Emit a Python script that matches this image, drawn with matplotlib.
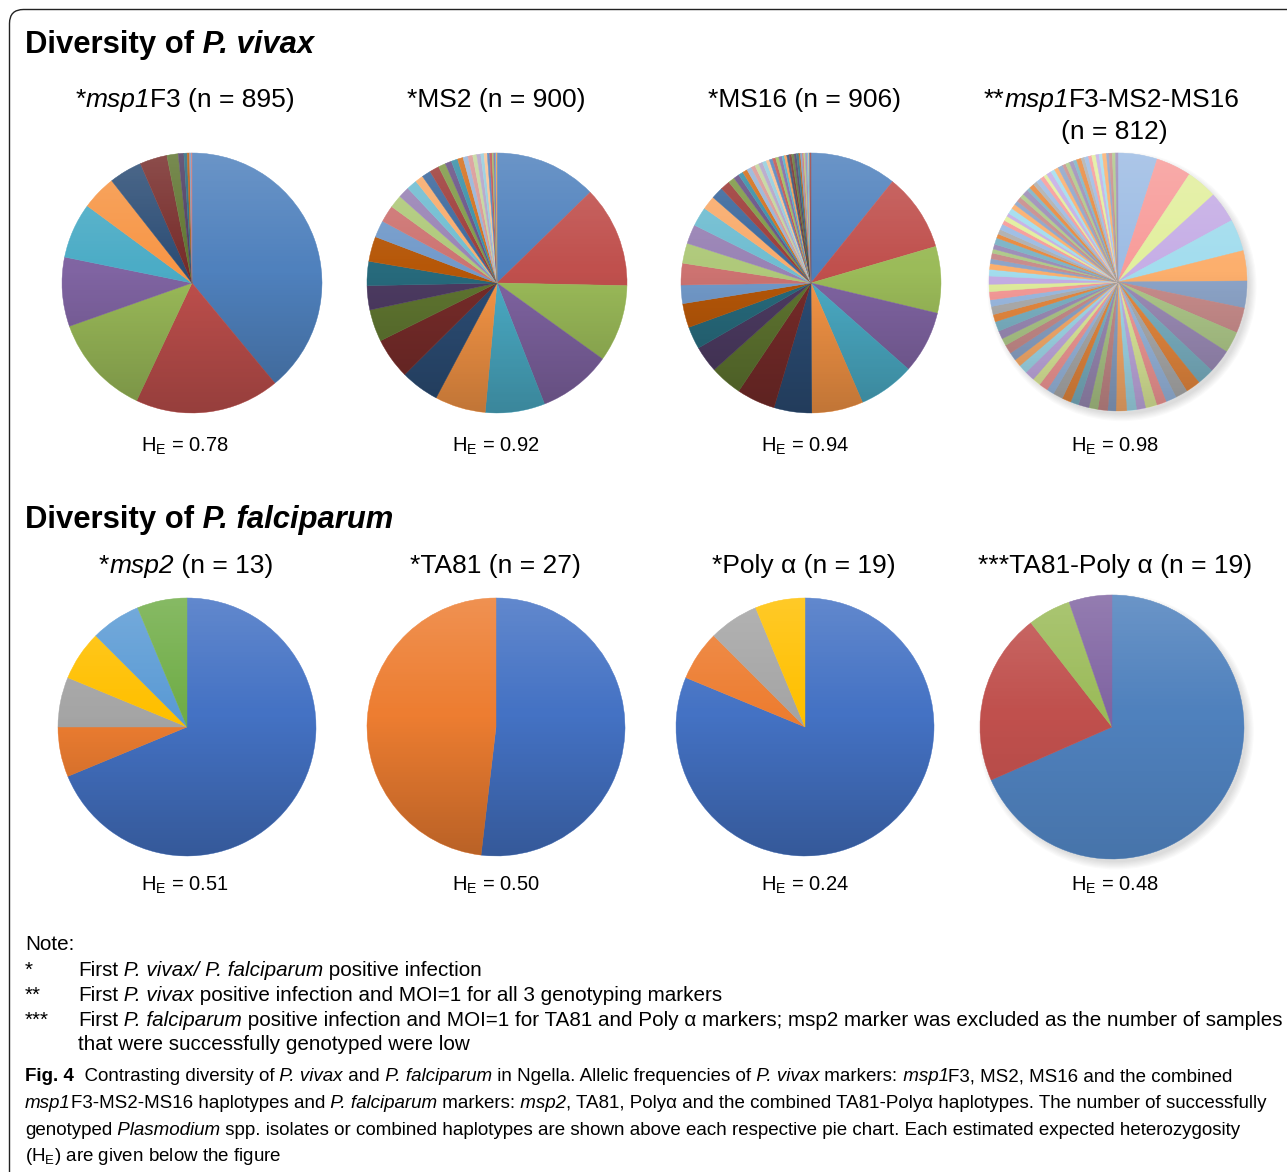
import numpy as np
import matplotlib.pyplot as plt
from matplotlib.patches import Circle, FancyBboxPatch
from matplotlib.transforms import IdentityTransform

plt.rcParams['font.family'] = ['Liberation Sans', 'DejaVu Sans']
plt.rcParams['mathtext.fontset'] = 'custom'
plt.rcParams['mathtext.rm'] = 'Liberation Sans'
plt.rcParams['mathtext.it'] = 'Liberation Sans:italic'

W, H = 1287, 1172
fig = plt.figure(figsize=(W / 100, H / 100), dpi=100)
R = fig.canvas.get_renderer()
PX = IdentityTransform()

# ---- data (allele frequencies, %, clockwise from 12 o'clock) ----
msp1f3 = [39.0, 18.0, 12.6, 8.6, 6.9, 4.3, 4.1, 3.4, 1.4, 0.7, 0.4, 0.3, 0.2, 0.1]
ms2 = [12.7, 12.6, 9.6, 9.1, 7.4, 6.3, 4.8, 5.1, 4.0, 3.0, 3.0, 3.1, 2.1, 2.1, 1.6, 1.4,
       1.3, 1.0, 1.1, 1.2, 0.9, 0.8, 0.8, 0.7, 0.6, 0.6, 0.5, 0.5, 0.4, 0.4, 0.3, 0.3,
       0.2, 0.2, 0.1, 0.1]
ms16 = [10.8, 9.7, 8.3, 7.8, 7.0, 6.4, 4.7, 4.8, 4.0, 3.3, 2.8, 3.0, 2.3, 2.7, 2.5, 2.4,
        2.4, 1.7, 1.5, 1.2, 0.8, 0.7, 0.6, 0.6, 0.6, 0.5, 0.5, 0.5, 0.5, 0.4, 0.4, 0.4,
        0.4, 0.4, 0.3, 0.3, 0.3, 0.3, 0.3, 0.3, 0.3, 0.2, 0.2, 0.2, 0.2, 0.2, 0.2, 0.1,
        0.1, 0.1]
msp1f3_ms2_ms16 = [4.8, 4.3, 3.8, 3.8, 3.9, 3.7, 3.3, 3.1, 2.6, 2.9, 2.1, 1.8,
                   1.5, 1.3, 1.2, 1.4, 1.1, 1.2, 1.3, 1.0, 1.2, 1.1, 1.3, 1.0, 1.1, 1.2,
                   0.9, 1.1, 1.0, 1.2, 1.1, 0.9, 1.0, 1.1, 0.9, 1.0, 1.2, 0.9, 1.0, 0.8,
                   1.0, 0.9, 1.0,
                   0.8, 0.7, 0.6, 0.7, 0.5, 0.6, 0.8, 0.5, 0.6, 0.7, 0.5, 0.6, 0.4, 0.7,
                   0.6, 0.5, 0.6, 0.5, 0.7, 0.4, 0.6, 0.5, 0.6, 0.5, 0.4, 0.6, 0.5, 0.5,
                   0.6, 0.4, 0.5, 0.5, 0.4, 0.6, 0.4, 0.5, 0.4, 0.5, 0.4, 0.4, 0.5, 0.3,
                   0.4, 0.4, 0.3]
msp2 = [11, 1, 1, 1, 1, 1]
ta81 = [14, 13]
poly_a = [13, 1, 1, 1]
ta81_poly_a = [13, 4, 1, 1]

vivax_he = ['0.78', '0.92', '0.94', '0.98']
falc_he = ['0.51', '0.50', '0.24', '0.48']

# ---- colour palettes ----
office2010 = ['#4F81BD', '#C0504D', '#9BBB59', '#8064A2', '#4BACC6', '#F79646',
              '#2C4D75', '#772C2A', '#5F7530', '#4D3B62', '#276A7C', '#B65708',
              '#729ACA', '#CD7371', '#AFC97A', '#9983B5', '#6FBDD1', '#F9AB6B',
              '#3A679C', '#9D3B38', '#7E9945', '#664F83', '#358EA6', '#D46D17',
              '#95B3D7', '#D99694', '#C3D69B', '#B3A2C7', '#93CDDD', '#FAC090']
pastel = ['#9DBCE4', '#F89C9A', '#E2EF9E', '#C6AEE6', '#A3DDEE', '#FCAF6D',
          '#8DA5C9', '#C98D8C', '#AFC98A', '#9D8DB8', '#7DB4C6', '#E98A3F',
          '#B0B0B0']
office2013 = ['#4472C4', '#ED7D31', '#A5A5A5', '#FFC000', '#5B9BD5', '#70AD47']


def rich(x, y, parts, size, ha='left'):
    texts = []
    for s, st in parts:
        texts.append(fig.text(0, 0, s, fontsize=size, transform=PX, va='baseline', ha='left',
                              fontweight='bold' if 'b' in st else 'normal',
                              fontstyle='italic' if 'i' in st else 'normal'))
    widths = [t.get_window_extent(R).width for t in texts]
    x0 = x - sum(widths) / 2 if ha == 'center' else x
    for t, w in zip(texts, widths):
        t.set_position((x0, H - y))
        x0 += w


def draw_pie(cx, cy, r, vals, cols, shade=0.22, shadow=False):
    m = 1.1
    ax = fig.add_axes([(cx - r * m) / W, (H - cy - r * m) / H, 2 * r * m / W, 2 * r * m / H])
    wedges, _ = ax.pie(vals, colors=[cols[i % len(cols)] for i in range(len(vals))],
                       startangle=90, counterclock=False, radius=1,
                       wedgeprops=dict(linewidth=0.3))
    for w in wedges:
        w.set_edgecolor(w.get_facecolor())
    t = np.linspace(0, 1, 256)
    light = np.clip((0.45 - t) / 0.45, 0, 1) * 0.16
    dark = np.clip((t - 0.45) / 0.55, 0, 1) * shade
    rgba = np.zeros((256, 2, 4))
    rgba[:, :, :3] = np.where(light > 0, 1.0, 0.0)[:, None, None]
    rgba[:, :, 3] = (light + dark)[:, None]
    im = ax.imshow(rgba, extent=(-1, 1, -1, 1), origin='upper', zorder=3,
                   interpolation='bilinear', aspect='auto')
    im.set_clip_path(Circle((0, 0), 1, transform=ax.transData))
    if shadow:
        for k in range(7):
            ax.add_patch(Circle((0.03, -0.035), 0.99 + 0.009 * k, color='k', alpha=0.018,
                                lw=0, zorder=0))
    ax.set_xlim(-m, m)
    ax.set_ylim(-m, m)
    ax.axis('off')


# border
fig.patches.append(FancyBboxPatch((9.5, -60), 1400, H - 9.5 + 60, transform=PX,
                                  boxstyle='round,pad=0,rounding_size=14',
                                  fc='none', ec='#222222', lw=1.0))

ts = 19
# ---- P. vivax ----
rich(25, 53, [('Diversity of', 'b'), (' P. vivax', 'bi')], 22.3)
rich(185, 107, [('*', ''), ('msp1', 'i'), ('F3 (n = 895)', '')], ts, 'center')
rich(496, 107, [('*MS2 (n = 900)', '')], ts, 'center')
rich(805, 107, [('*MS16 (n = 906)', '')], ts, 'center')
rich(1112, 107, [('**', ''), ('msp1', 'i'), ('F3-MS2-MS16', '')], ts, 'center')
rich(1114, 139, [('(n = 812)', '')], ts, 'center')

draw_pie(192, 283, 130, msp1f3, office2010)
draw_pie(497, 283, 130, ms2, office2010)
draw_pie(811, 283, 130, ms16, office2010)
draw_pie(1118, 282, 129, msp1f3_ms2_ms16, pastel, shade=0.2, shadow=True)

for xc, he in zip([185, 496, 805, 1115], vivax_he):
    fig.text(xc, H - 452, 'H$_\\mathregular{E}$ = ' + he, fontsize=14.5, ha='center',
             va='baseline', transform=PX)

# ---- P. falciparum ----
rich(25, 528, [('Diversity of', 'b'), (' P. falciparum', 'bi')], 22.3)
rich(186, 573, [('*', ''), ('msp2', 'i'), (' (n = 13)', '')], ts, 'center')
rich(495, 573, [('*TA81 (n = 27)', '')], ts, 'center')
rich(804, 573, [('*Poly α (n = 19)', '')], ts, 'center')
rich(1115, 573, [('***TA81-Poly α (n = 19)', '')], ts, 'center')

draw_pie(187, 727, 129, msp2, office2013)
draw_pie(496, 727, 129, ta81, office2013)
draw_pie(805, 727, 129, poly_a, office2013)
draw_pie(1112, 727, 132, ta81_poly_a, office2010, shade=0.1, shadow=True)

for xc, he in zip([185, 496, 805, 1115], falc_he):
    fig.text(xc, H - 891, 'H$_\\mathregular{E}$ = ' + he, fontsize=14.5, ha='center',
             va='baseline', transform=PX)

# ---- notes ----
ns = 14.9
rich(25, 950, [('Note:', '')], ns)
rich(25, 976, [('*', '')], ns)
rich(78, 976, [('First', ''), (' P. vivax/ P. falciparum', 'i'), (' positive infection', '')], ns)
rich(25, 1001, [('**', '')], ns)
rich(78, 1001, [('First', ''), (' P. vivax', 'i'),
                (' positive infection and MOI=1 for all 3 genotyping markers', '')], ns)
rich(25, 1026, [('***', '')], ns)
rich(78, 1026, [('First', ''), (' P. falciparum', 'i'),
                (' positive infection and MOI=1 for TA81 and Poly α markers; msp2 marker '
                 'was excluded as the number of samples', '')], ns)
rich(78, 1050, [('that were successfully genotyped were low', '')], ns)

# ---- caption ----
cs = 13.5
rich(25, 1081, [('Fig. 4', 'b'), ('  Contrasting diversity of', ''), (' P. vivax', 'i'),
                (' and', ''), (' P. falciparum', 'i'), (' in Ngella. Allelic frequencies of', ''),
                (' P. vivax', 'i'), (' markers:', ''), (' msp1', 'i'),
                ('F3, MS2, MS16 and the combined', '')], cs)
rich(25, 1108, [('msp1', 'i'), ('F3-MS2-MS16 haplotypes and', ''), (' P. falciparum', 'i'),
                (' markers:', ''), (' msp2', 'i'),
                (', TA81, Polyα and the combined TA81-Polyα haplotypes. The number of '
                 'successfully', '')], cs)
rich(25, 1135, [('genotyped', ''), (' Plasmodium', 'i'),
                (' spp. isolates or combined haplotypes are shown above each respective pie '
                 'chart. Each estimated expected heterozygosity', '')], cs)
fig.text(25, H - 1161, '(H$_\\mathregular{E}$) are given below the figure', fontsize=cs,
         va='baseline', transform=PX)

fig.savefig('out.png', dpi=100)
